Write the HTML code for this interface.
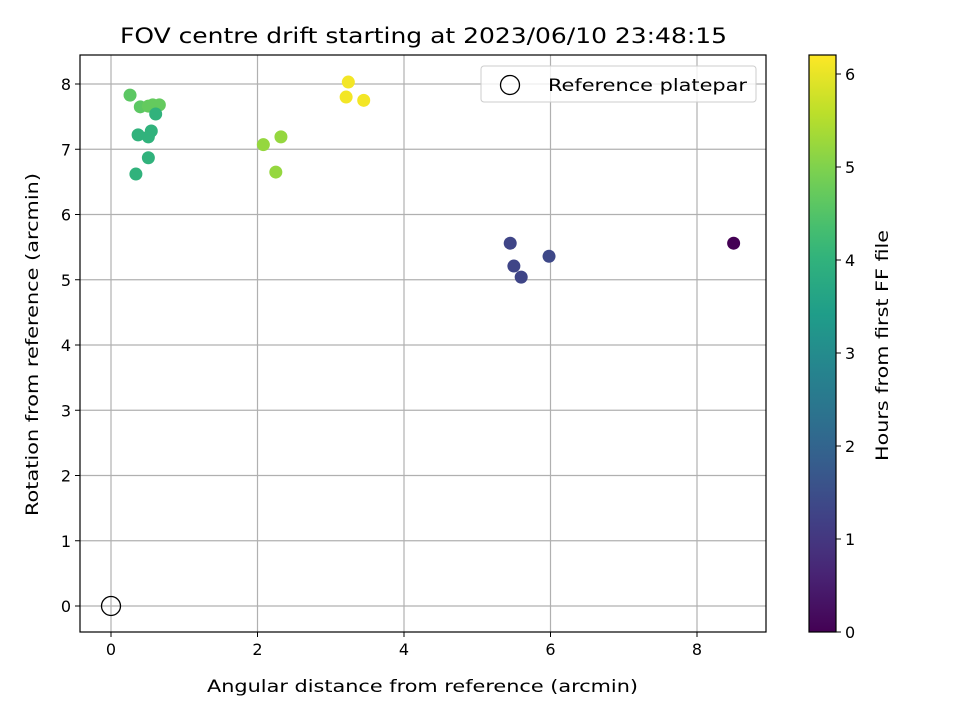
<!DOCTYPE html>
<html><head><meta charset="utf-8"><style>
body{margin:0;background:#fff;font-family:"DejaVu Sans","Liberation Sans",sans-serif}
svg text{font-family:"DejaVu Sans","Liberation Sans",sans-serif}
</style></head><body>
<svg id="chart" width="960" height="720" viewBox="0 0 960 720" xmlns="http://www.w3.org/2000/svg">
<rect width="960" height="720" fill="#fff"/>
<defs><linearGradient id="vir" x1="0" y1="1" x2="0" y2="0"></linearGradient></defs>
<g id="grid"></g><g id="pts"></g><g id="axes"></g>
</svg>
<script>
const xs=[0.26,0.40,0.51,0.57,0.66,0.61,0.37,0.55,0.51,0.51,0.34,2.08,2.32,2.25,3.24,3.21,3.45,5.45,5.50,5.60,5.98,8.50];
const ys=[7.83,7.65,7.66,7.68,7.68,7.54,7.22,7.28,7.19,6.87,6.62,7.07,7.19,6.65,8.03,7.80,7.75,5.56,5.21,5.04,5.36,5.56];
const hours=[4.6,4.6,4.7,4.7,4.7,4.0,4.0,4.0,4.0,4.0,4.0,5.2,5.2,5.2,6.1,6.1,6.1,1.3,1.3,1.3,1.35,0.0];
const xTicks=[0,2,4,6,8];
const yTicks=[0,1,2,3,4,5,6,7,8];
const cTicks=[0,1,2,3,4,5,6];
const L=80,R=766,T=55,B=632;
const X=v=>111+v*73.25, Y=v=>606-v*65.25;
const C=h=>632-h*93;
const stops=["#440154","#482878","#3e4989","#31688e","#26828e","#1f9e89","#35b779","#6ece58","#b5de2b","#fde725"];
function vir(t){t=Math.max(0,Math.min(1,t));const p=t*(stops.length-1),i=Math.min(Math.floor(p),stops.length-2),f=p-i;
const a=stops[i],b=stops[i+1];const c=k=>Math.round(parseInt(a.substr(k,2),16)*(1-f)+parseInt(b.substr(k,2),16)*f);
return `rgb(${c(1)},${c(3)},${c(5)})`;}
const NS="http://www.w3.org/2000/svg";
function el(tag,attrs,parent,txt){const e=document.createElementNS(NS,tag);for(const k in attrs)e.setAttribute(k,attrs[k]);if(txt!=null)e.textContent=txt;parent.appendChild(e);return e;}
const g=document.getElementById('grid'),ax=document.getElementById('axes'),pg=document.getElementById('pts');
const FIT={lengthAdjust:'spacingAndGlyphs'};
xTicks.forEach(t=>{const l=el('line',{x1:X(t),x2:X(t),y1:T,y2:B,stroke:'#b0b0b0','stroke-width':1.2},g);

el('line',{x1:X(t),x2:X(t),y1:B,y2:B+5,stroke:'#000'},ax);
const tx=el('text',{x:X(t),y:B+23,'text-anchor':'middle','font-size':16},ax,t);
});
yTicks.forEach(t=>{const l=el('line',{x1:L,x2:R,y1:Y(t),y2:Y(t),stroke:'#b0b0b0','stroke-width':1.2},g);

el('line',{x1:L-5,x2:L,y1:Y(t),y2:Y(t),stroke:'#000'},ax);
const tx=el('text',{x:L-9,y:Y(t)+6,'text-anchor':'end','font-size':16},ax,t);
});
xs.forEach((v,i)=>{const c=el('circle',{cx:X(v),cy:Y(ys[i]),r:6.5,fill:vir(hours[i]/6.2)},pg);
});
const ref=el('circle',{cx:X(0),cy:Y(0),r:9.5,fill:'none',stroke:'#000','stroke-width':1.3},pg);

const fr=el('rect',{x:L,y:T,width:R-L,height:B-T,fill:'none',stroke:'#000','stroke-width':1.2},ax);

const ti=el('text',{x:120,y:43,'font-size':21,textLength:607,lengthAdjust:'spacingAndGlyphs'},ax,'FOV centre drift starting at 2023/06/10 23:48:15');

const xl=el('text',{x:207,y:692,'font-size':17,textLength:431,lengthAdjust:'spacingAndGlyphs'},ax,'Angular distance from reference (arcmin)');

const yl=el('text',{x:0,y:0,'font-size':17,textLength:343,lengthAdjust:'spacingAndGlyphs',transform:'translate(38,516) rotate(-90)'},ax,'Rotation from reference (arcmin)');

const lg=el('g',{},ax);
el('rect',{x:481,y:66,width:275,height:36,rx:3,fill:'#fff','fill-opacity':0.8,stroke:'#ccc'},lg);
el('circle',{cx:510,cy:85,r:9.5,fill:'none',stroke:'#000','stroke-width':1.3},lg);
el('text',{x:548,y:91,'font-size':17,textLength:199,lengthAdjust:'spacingAndGlyphs'},lg,'Reference platepar');
const grad=document.getElementById('vir');
for(let i=0;i<=20;i++){el('stop',{offset:(i/20),'stop-color':vir(i/20)},grad);}
const cb=el('rect',{x:809,y:T,width:27,height:B-T,fill:'url(#vir)',stroke:'#000','stroke-width':1.2},ax);

cTicks.forEach(t=>{el('line',{x1:836,x2:841,y1:C(t),y2:C(t),stroke:'#000'},ax);
const tx=el('text',{x:845,y:C(t)+6,'font-size':16},ax,t);
});
const cl=el('text',{x:0,y:0,'font-size':17,textLength:231,lengthAdjust:'spacingAndGlyphs',transform:'translate(888,461) rotate(-90)'},ax,'Hours from first FF file');

</script>
</body></html>
